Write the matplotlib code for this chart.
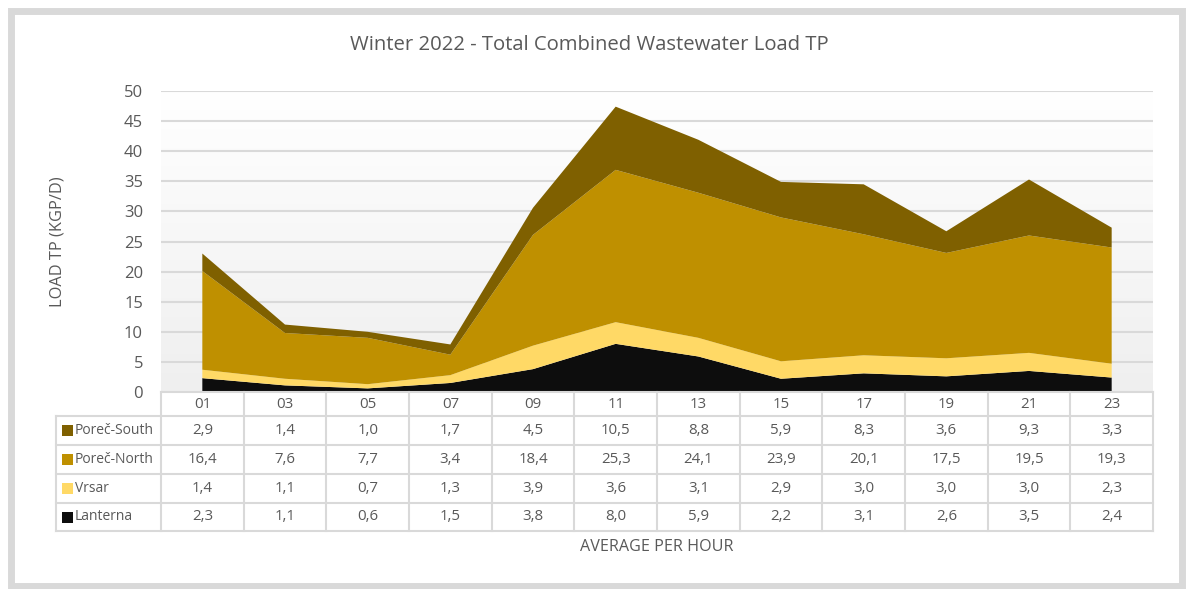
import numpy as np
import matplotlib.pyplot as plt
from matplotlib.colors import LinearSegmentedColormap
from matplotlib.patches import Rectangle

plt.rcParams['font.family'] = ['Open Sans', 'DejaVu Sans']

hours = ['01', '03', '05', '07', '09', '11', '13', '15', '17', '19', '21', '23']
lanterna = [2.3, 1.1, 0.6, 1.5, 3.8, 8.0, 5.9, 2.2, 3.1, 2.6, 3.5, 2.4]
vrsar = [1.4, 1.1, 0.7, 1.3, 3.9, 3.6, 3.1, 2.9, 3.0, 3.0, 3.0, 2.3]
porec_north = [16.4, 7.6, 7.7, 3.4, 18.4, 25.3, 24.1, 23.9, 20.1, 17.5, 19.5, 19.3]
porec_south = [2.9, 1.4, 1.0, 1.7, 4.5, 10.5, 8.8, 5.9, 8.3, 3.6, 9.3, 3.3]

names = ['Poreč-South', 'Poreč-North', 'Vrsar', 'Lanterna']
colors = {'Lanterna': '#0d0d0d', 'Vrsar': '#ffd966',
          'Poreč-North': '#bf9000', 'Poreč-South': '#7f6000'}
txt = '#595959'
grid = '#d9d9d9'

W, H = 1190, 589
fig = plt.figure(figsize=(W / 100, H / 100), dpi=100)

# plot area in pixels
x0, x1, ytop, ybot = 161, 1153, 91, 392
ax = fig.add_axes([x0 / W, 1 - ybot / H, (x1 - x0) / W, (ybot - ytop) / H])

x = np.arange(len(hours))
grad = LinearSegmentedColormap.from_list('g', ['#ffffff', '#efefef'])
ax.imshow(np.linspace(0, 1, 256).reshape(-1, 1), extent=[-0.5, 11.5, 0, 50],
          aspect='auto', cmap=grad, zorder=0)

ax.stackplot(x, lanterna, vrsar, porec_north, porec_south,
             colors=[colors['Lanterna'], colors['Vrsar'],
                     colors['Poreč-North'], colors['Poreč-South']], zorder=2)

ax.set_xlim(-0.5, 11.5)
ax.set_ylim(0, 50)
ax.set_yticks(range(0, 51, 5))
ax.set_xticks([])
ax.yaxis.grid(True, color=grid, linewidth=1.5, zorder=1)
ax.set_axisbelow(True)
ax.tick_params(axis='y', length=0, pad=13, labelsize=12, labelcolor=txt)
for s in ax.spines.values():
    s.set_visible(False)

# data table under the plot (x in data units, y in axes units)
tr = ax.get_xaxis_transform()
ph = ybot - ytop
col_px = (x1 - x0) / len(hours)
xlab = -0.5 - (x0 - 56) / col_px
row_edges = [392, 416, 445, 474, 503, 531]
ye = [-(r - ybot) / ph for r in row_edges]
rows = [porec_south, porec_north, vrsar, lanterna]

lk = dict(color=grid, linewidth=1.5, transform=tr, clip_on=False, zorder=3)
# horizontal lines
ax.plot([-0.5, 11.5], [ye[0], ye[0]], **lk)
for yy in ye[1:]:
    ax.plot([xlab, 11.5], [yy, yy], **lk)
# vertical lines
ax.plot([xlab, xlab], [ye[1], ye[-1]], **lk)
for i in range(len(hours) + 1):
    ax.plot([i - 0.5, i - 0.5], [ye[0], ye[-1]], **lk)

for i, h in enumerate(hours):
    ax.text(i, (ye[0] + ye[1]) / 2, h, transform=tr, ha='center',
            va='center', fontsize=10.8, color=txt)
for r, (name, vals) in enumerate(zip(names, rows)):
    yc = (ye[r + 1] + ye[r + 2]) / 2
    for i, v in enumerate(vals):
        ax.text(i, yc, f'{v:.1f}'.replace('.', ','), transform=tr,
                ha='center', va='center', fontsize=10.8, color=txt)
    ax.text(xlab + 19 / col_px, yc, name, transform=tr, ha='left',
            va='center', fontsize=10, color=txt)
    ax.add_patch(Rectangle((xlab + 5.5 / col_px, yc - 5.5 / ph), 11 / col_px,
                           11 / ph, transform=tr, clip_on=False,
                           facecolor=colors[name], edgecolor='none'))

fig.text(589 / W, 1 - 45 / H, 'Winter 2022 - Total Combined Wastewater Load TP',
         ha='center', va='center', fontsize=14.6, color=txt)
fig.text(58 / W, 1 - 242 / H, 'LOAD TP (KGP/D)', rotation=90,
         ha='center', va='center', fontsize=11.8, color=txt)
fig.text(657 / W, 1 - 547 / H, 'AVERAGE PER HOUR',
         ha='center', va='center', fontsize=11.6, color=txt)

# outer chart frame
fig.add_artist(Rectangle((10.5 / W, 1 - 586 / H), 1171 / W, 575.5 / H,
                         transform=fig.transFigure, facecolor='none',
                         edgecolor='#d9d9d9', linewidth=5))

fig.savefig('out.png', dpi=100)
